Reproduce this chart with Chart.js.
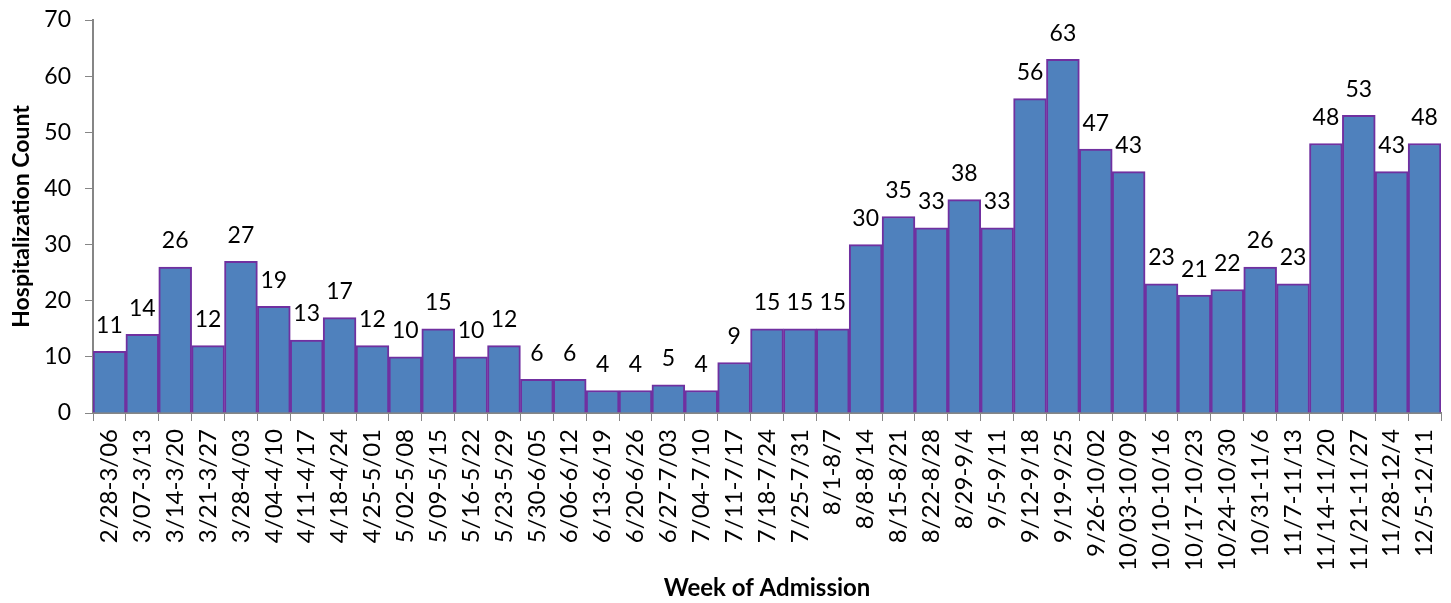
<!DOCTYPE html>
<html>
<head>
<meta charset="utf-8">
<script src="https://cdn.jsdelivr.net/npm/chart.js@4"></script>
<style>
  body { margin: 0; background: #fff; }
  #wrap { width: 1451px; height: 603px; }
</style>
</head>
<body>
<div id="wrap"><canvas id="grafico"></canvas></div>
<script>
const semanas = [
  "2/28-3/06", "3/07-3/13", "3/14-3/20", "3/21-3/27", "3/28-4/03", "4/04-4/10",
  "4/11-4/17", "4/18-4/24", "4/25-5/01", "5/02-5/08", "5/09-5/15", "5/16-5/22",
  "5/23-5/29", "5/30-6/05", "6/06-6/12", "6/13-6/19", "6/20-6/26", "6/27-7/03",
  "7/04-7/10", "7/11-7/17", "7/18-7/24", "7/25-7/31", "8/1-8/7", "8/8-8/14",
  "8/15-8/21", "8/22-8/28", "8/29-9/4", "9/5-9/11", "9/12-9/18", "9/19-9/25",
  "9/26-10/02", "10/03-10/09", "10/10-10/16", "10/17-10/23", "10/24-10/30",
  "10/31-11/6", "11/7-11/13", "11/14-11/20", "11/21-11/27", "11/28-12/4", "12/5-12/11"
];
const hospitalizaciones = [
  11, 14, 26, 12, 27, 19, 13, 17, 12, 10, 15, 10, 12, 6, 6, 4, 4, 5, 4, 9,
  15, 15, 15, 30, 35, 33, 38, 33, 56, 63, 47, 43, 23, 21, 22, 26, 23, 48, 53, 43, 48
];
const ticksY = [0, 10, 20, 30, 40, 50, 60, 70];

const fuente = "Lato, 'Open Sans', sans-serif";
const gris = "#868686";

// etiquetas de valor encima de cada barra
const etiquetasValor = {
  id: "etiquetasValor",
  afterDatasetsDraw(chart) {
    const ctx = chart.ctx;
    const meta = chart.getDatasetMeta(0);
    ctx.save();
    ctx.fillStyle = "#000";
    ctx.font = "23px " + fuente;
    ctx.textAlign = "center";
    ctx.textBaseline = "middle";
    meta.data.forEach((barra, i) => {
      ctx.fillText(String(hospitalizaciones[i]), barra.x, barra.y - 26);
    });
    ctx.restore();
  }
};

new Chart(document.getElementById("grafico").getContext("2d"), {
  type: "bar",
  data: {
    labels: semanas,
    datasets: [{
      data: hospitalizaciones,
      backgroundColor: "#4F81BD",
      borderColor: "#7030A0",
      borderWidth: 2,
      barPercentage: 1,
      categoryPercentage: 1
    }]
  },
  options: {
    responsive: true,
    maintainAspectRatio: false,
    animation: false,
    layout: { padding: { top: 20, right: 10, left: 0, bottom: 0 } },
    plugins: {
      legend: { display: false },
      tooltip: { enabled: false }
    },
    scales: {
      x: {
        afterFit: s => { s.height = 190; s.paddingLeft = 0; s.paddingRight = 0; },
        grid: { drawOnChartArea: false, tickLength: 8, color: gris, offset: true },
        border: { color: gris, width: 2 },
        ticks: {
          color: "#000",
          font: { family: fuente, size: 24 },
          minRotation: 90,
          maxRotation: 90,
          autoSkip: false,
          padding: 8
        },
        title: {
          display: true,
          text: "Week of Admission",
          color: "#000",
          font: { family: fuente, size: 24, weight: "bold" },
          padding: { top: 0, bottom: 0 }
        }
      },
      y: {
        min: 0,
        max: 70,
        afterFit: s => { s.width = 93; s.paddingTop = 0; s.paddingBottom = 0; },
        afterBuildTicks: s => { s.ticks = ticksY.map(v => ({ value: v })); },
        grid: { drawOnChartArea: false, tickLength: 8, color: gris },
        border: { color: gris, width: 2 },
        ticks: {
          color: "#000",
          font: { family: fuente, size: 23 },
          padding: 14
        },
        title: {
          display: true,
          text: "Hospitalization Count",
          color: "#000",
          font: { family: fuente, size: 23, weight: "bold" },
          padding: { top: 8, bottom: 0 }
        }
      }
    }
  },
  plugins: [etiquetasValor]
});
</script>
</body>
</html>
